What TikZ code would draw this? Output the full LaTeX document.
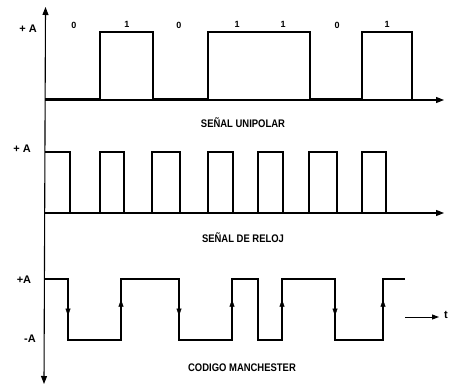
\documentclass[tikz,border=0pt]{standalone}
\usepackage{fontspec}
\setmainfont{Liberation Sans}
\usetikzlibrary{arrows.meta,decorations.markings}
\begin{document}
\begin{tikzpicture}[x=1pt,y=-1pt,
  axis/.style={line width=1.1pt,-{Triangle[length=8pt,width=6pt]}},
  sig/.style={line width=1.9pt,line join=miter},
  lbl/.style={font=\bfseries\fontsize{11}{11}\selectfont,xscale=0.86,inner sep=0pt},
  bit/.style={font=\bfseries\fontsize{9}{9}\selectfont,inner sep=0pt},
  lev/.style={font=\bfseries\fontsize{11}{11}\selectfont,inner sep=0pt},
  downmk/.style={postaction={decorate},decoration={markings,
     mark=at position 0.6 with {\arrow{Triangle[length=7pt,width=5pt]}}}},
  upmk/.style={postaction={decorate},decoration={markings,
     mark=at position 0.66 with {\arrow{Triangle[length=7pt,width=5pt]}}}},
]
\useasboundingbox (0,0) rectangle (452,385);
% vertical axis
\coordinate (vbot) at (44,384);
\coordinate (vtop) at (45.5,7);
\draw[line width=1.1pt,{Triangle[length=8pt,width=6pt]}-{Triangle[length=8pt,width=6pt]}] (vbot) -- (vtop);
% horizontal axes
\coordinate (h1s) at (45,100);
\coordinate (h1e) at (444,100);
\coordinate (h2s) at (45,213);
\coordinate (h2e) at (444,213);
\draw[axis] (h1s) -- (h1e);
\draw[axis] (h2s) -- (h2e);
% unipolar signal
\draw[sig] (45,99) -| (100,32) -| (153,99) -| (208,32) -| (310,99) -| (362,32) -| (412,99);
% clock
\draw[sig] (45,152) -| (70,213) -| (100,152) -| (124,213) -| (152,152) -| (180,213)
  -| (208,152) -| (233,213) -| (258,152) -| (283,213) -| (309,152) -| (337,213)
  -| (362,152) -| (386,213) -- (412,213);
% manchester
\draw[sig] (45,279) -| (68,340) -| (121,279) -| (179,340) -| (232,279) -| (258,340)
  -| (282,279) -| (335,340) -| (383,279) -- (405,279);
\path[downmk] (68,279) -- (68,340);
\path[upmk] (121,340) -- (121,279);
\path[downmk] (179,279) -- (179,340);
\path[upmk] (232,340) -- (232,279);
\path[upmk] (282,340) -- (282,279);
\path[downmk] (335,279) -- (335,340);
\path[upmk] (383,340) -- (383,279);
% time arrow
\coordinate (ts) at (405,317);
\coordinate (te) at (439,317);
\node[lev,anchor=west] (tl) at (444,315) {t};
\draw[line width=1pt,-{Triangle[length=7pt,width=5pt]}] (ts) -- (te);
% level labels
\node[lev] (pa1) at (28,29) {+ A};
\node[lev] (pa2) at (22,149) {+ A};
\node[lev] (pa3) at (24,280) {+A};
\node[lev] (ma3) at (30,339) {-A};
% bit labels
\node[bit] (b1) at (74,25) {0};
\node[bit] (b2) at (127,24) {1};
\node[bit] (b3) at (179,25) {0};
\node[bit] (b4) at (237,24) {1};
\node[bit] (b5) at (283,24) {1};
\node[bit] (b6) at (337,25) {0};
\node[bit] (b7) at (387,24) {1};
% titles
\node[lbl] (t1) at (243,123) {SEÑAL UNIPOLAR};
\node[lbl] (t2) at (243,238) {SEÑAL DE RELOJ};
\node[lbl] (t3) at (242,368) {CODIGO MANCHESTER};
\end{tikzpicture}
\end{document}
